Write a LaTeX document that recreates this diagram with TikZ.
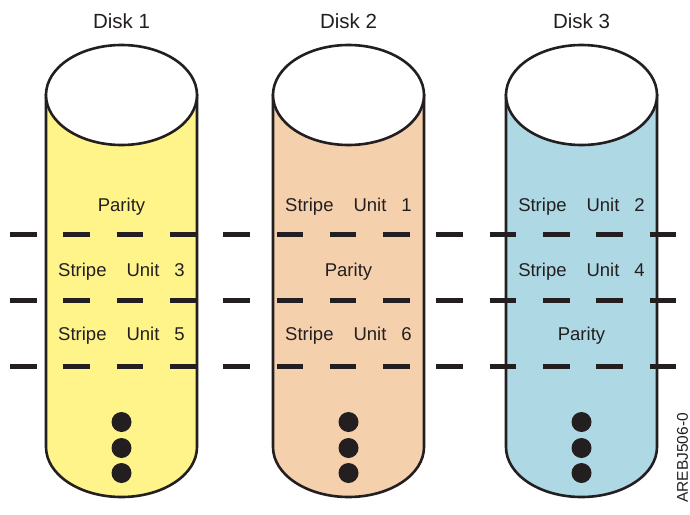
\documentclass[tikz,border=0pt]{standalone}
\usepackage{fontspec}
\setmainfont{Liberation Sans}
\definecolor{diskyellow}{RGB}{255,244,138}
\definecolor{diskpeach}{RGB}{245,208,172}
\definecolor{diskblue}{RGB}{174,217,228}
\definecolor{ink}{RGB}{35,31,32}
\newcommand{\stripeunit}[1]{Stripe\hspace{20pt}Unit\hspace{15pt}#1}
\newcommand{\drawdisk}[3]
{\begin{scope}[shift={(#1,0)}]
	\draw [outline,fill=#2] (-75.5,95) -- (-75.5,447) arc [start angle=180,end angle=0,x radius=75.5,y radius=50] -- (75.5,95) -- cycle;
	\draw [outline,fill=white] (0,95) ellipse [x radius=75.5,y radius=50];
	\node (title#3) [titletext] at (0,28) {Disk #3};
	\foreach \y in {422,448,473}
		{\fill [ink] (0,\y) circle (10);
			};
	\end{scope}
}

\begin{document}
\begin{tikzpicture}[x=1pt,y=-1pt,
	outline/.style={line width=2.6pt,ink},
	dashline/.style={line width=5pt,ink,dash pattern=on 26.5pt off 26.8pt},
	titletext/.style={anchor=base,text=ink,font=\fontsize{20.5}{24}\selectfont},
	rowtext/.style={anchor=base,text=ink,font=\fontsize{18.5}{22}\selectfont}]
		\useasboundingbox (0,0) rectangle (690,514);
		\drawdisk{121.5}{diskyellow}{1};%yellow
		\drawdisk{348.5}{diskpeach}{2};%peach
		\drawdisk{581.5}{diskblue}{3};%blue
		\foreach \y in {234.5,300,366.5}
			{\draw [dashline] (10,\y) -- (676,\y);
				};
		\node (d1r1) [rowtext] at (121.5,211.5) {Parity};
		\node (d1r2) [rowtext] at (121.5,276) {\stripeunit{3}};
		\node (d1r3) [rowtext] at (121.5,340.5) {\stripeunit{5}};
		\node (d2r1) [rowtext] at (348.5,211.5) {\stripeunit{1}};
		\node (d2r2) [rowtext] at (348.5,276) {Parity};
		\node (d2r3) [rowtext] at (348.5,340.5) {\stripeunit{6}};
		\node (d3r1) [rowtext] at (581.5,211.5) {\stripeunit{2}};
		\node (d3r2) [rowtext] at (581.5,276) {\stripeunit{4}};
		\node (d3r3) [rowtext] at (581.5,340.5) {Parity};
		\node (code) [rotate=90,inner sep=0pt,text=ink,font=\fontsize{15.5}{18}\selectfont] at (682.5,458) {AREBJ506-0};
\end{tikzpicture}
\end{document}
